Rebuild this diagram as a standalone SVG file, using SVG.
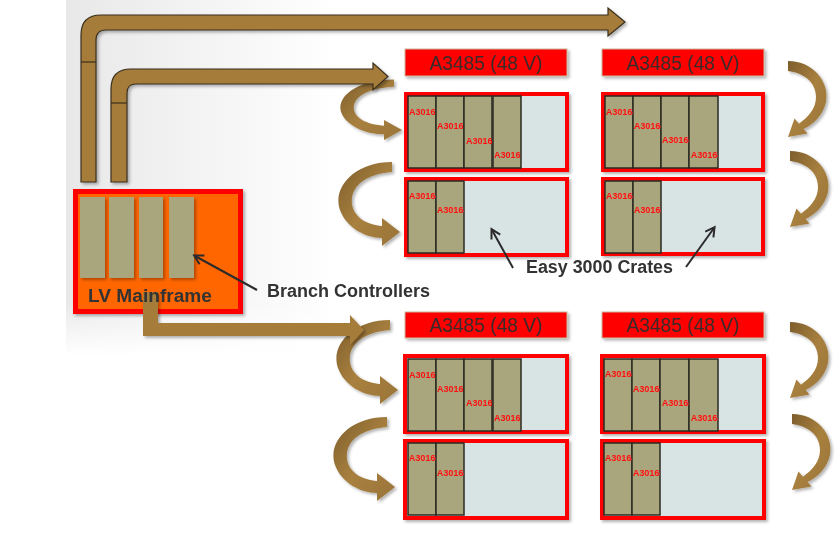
<svg xmlns="http://www.w3.org/2000/svg" width="838" height="544" viewBox="0 0 838 544">
<style>
.pipe{fill:#a67c3a;stroke:#3a2f1e;stroke-width:1.2}
.pipe2{fill:#a67c3a}
.joint{stroke:#3a2f1e;stroke-width:1.2}
.curve{fill:url(#cg)}
.psu rect{fill:#ff0000;stroke:#c9b89a;stroke-width:1}
.psu text{font-family:"Liberation Sans",Arial,sans-serif;font-size:20px;fill:#3a2b2b;text-anchor:middle}
.frame{fill:#d8e4e4;stroke:#ff0000;stroke-width:4}
.mod{fill:#a9a57d;stroke:#2b2a20;stroke-width:1.5}
.lbl{font-family:"Liberation Sans",Arial,sans-serif;font-size:9px;font-weight:bold;fill:#ff1010}
.big{font-family:"Liberation Sans",Arial,sans-serif;font-size:18px;font-weight:bold;fill:#333333}
.call{stroke:#2b2b2b;stroke-width:2;fill:none;marker-end:url(#ah)}
</style>
<defs>
<linearGradient id="bg" x1="0" y1="0" x2="1" y2="0">
<stop offset="0" stop-color="#e8e8e8"/>
<stop offset="0.35" stop-color="#ffffff"/>
</linearGradient>
<linearGradient id="bgv" x1="0" y1="0" x2="0" y2="1">
<stop offset="0.85" stop-color="#ffffff" stop-opacity="0"/>
<stop offset="1" stop-color="#ffffff" stop-opacity="1"/>
</linearGradient>
<linearGradient id="cg" x1="0" y1="0" x2="1" y2="1">
<stop offset="0" stop-color="#7e5e2c"/>
<stop offset="0.5" stop-color="#a8803f"/>
<stop offset="1" stop-color="#9a7438"/>
</linearGradient>
<filter id="sh" x="-20%" y="-20%" width="140%" height="140%">
<feDropShadow dx="2" dy="2" stdDeviation="1.5" flood-color="#000" flood-opacity="0.3"/>
</filter>
<marker id="ah" markerWidth="12" markerHeight="12" refX="9" refY="6" orient="auto" markerUnits="userSpaceOnUse">
<path d="M1,1 L10,6 L1,11" fill="none" stroke="#2b2b2b" stroke-width="2"/>
</marker>
<path id="cL" d="M-8,-70 C-45,-70 -68,-45 -60,-22 C-54,-5 -35,6 -18,6 L-18,14 L0,0 L-18,-14 L-18,-6 C-32,-7 -46,-14 -48,-28 C-50,-45 -35,-58 -8,-60 Z"/>
<path id="cR" d="M0,-76 C25,-76 42,-55 38,-35 C35,-22 26,-13 15.6,-8 L19.5,-3.4 L0,0 L6.5,-18.6 L11,-13.3 C20,-20 28,-28 28,-40 C28,-55 16,-64 0,-66 Z"/>
</defs>

<rect x="0" y="0" width="838" height="544" fill="#ffffff"/>
<rect x="66" y="0" width="772" height="355" fill="url(#bg)"/>
<rect x="66" y="0" width="772" height="355" fill="url(#bgv)"/>

<g id="connectors">
<g id="curves" filter="url(#sh)">
<use href="#cL" class="curve" transform="translate(402,130) scale(1,0.72)"/>
<use href="#cL" class="curve" transform="translate(400,232)"/>
<use href="#cL" class="curve" transform="translate(398,390)"/>
<use href="#cL" class="curve" transform="translate(395,487)"/>
<use href="#cR" class="curve" transform="translate(788,137)"/>
<use href="#cR" class="curve" transform="translate(790,227)"/>
<use href="#cR" class="curve" transform="translate(790,398)"/>
<use href="#cR" class="curve" transform="translate(792,490)"/>
</g>
<g id="pipes" filter="url(#sh)">
<path class="pipe" d="M81,182 L81,35 Q81,15 101,15 L608,15 L608,8 L625,22 L608,36 L608,30 L106,30 Q96,30 96,40 L96,182 Z"/>
<line class="joint" x1="81" y1="62" x2="96" y2="62"/>
<path class="pipe" d="M111,182 L111,89 Q111,69 131,69 L373,69 L373,63 L388,76.5 L373,90 L373,84 L136,84 Q127,84 127,93 L127,182 Z"/>
<line class="joint" x1="111" y1="103" x2="127" y2="103"/>
</g>
</g>

<g id="psu-tl" class="psu" filter="url(#sh)"><rect x="405" y="49" width="162" height="27"/><text x="486" y="70" textLength="113" lengthAdjust="spacingAndGlyphs">A3485 (48 V)</text></g>
<g id="psu-tr" class="psu" filter="url(#sh)"><rect x="602" y="49" width="162" height="27"/><text x="683" y="70" textLength="113" lengthAdjust="spacingAndGlyphs">A3485 (48 V)</text></g>
<g id="psu-bl" class="psu" filter="url(#sh)"><rect x="405" y="312" width="162" height="26"/><text x="486" y="332" textLength="113" lengthAdjust="spacingAndGlyphs">A3485 (48 V)</text></g>
<g id="psu-br" class="psu" filter="url(#sh)"><rect x="602" y="312" width="162" height="26"/><text x="683" y="332" textLength="113" lengthAdjust="spacingAndGlyphs">A3485 (48 V)</text></g>

<g id="crate-tl-1">
<rect class="frame" x="406" y="94" width="161" height="76" filter="url(#sh)"/>
<rect class="mod" x="408" y="96" width="28" height="72"/><rect class="mod" x="436" y="96" width="28" height="72"/><rect class="mod" x="464" y="96" width="28" height="72"/><rect class="mod" x="493" y="96" width="28" height="72"/>
<text class="lbl" x="409" y="115">A3016</text><text class="lbl" x="437" y="129">A3016</text><text class="lbl" x="466" y="144">A3016</text><text class="lbl" x="494" y="158">A3016</text>
</g>
<g id="crate-tl-2">
<rect class="frame" x="406" y="179" width="161" height="76" filter="url(#sh)"/>
<rect class="mod" x="408" y="181" width="28" height="72"/><rect class="mod" x="436" y="181" width="28" height="72"/>
<text class="lbl" x="409" y="199">A3016</text><text class="lbl" x="437" y="213">A3016</text>
</g>
<g id="crate-tr-1">
<rect class="frame" x="603" y="94" width="160" height="76" filter="url(#sh)"/>
<rect class="mod" x="605" y="96" width="28" height="72"/><rect class="mod" x="633" y="96" width="28" height="72"/><rect class="mod" x="661" y="96" width="28" height="72"/><rect class="mod" x="689" y="96" width="29" height="72"/>
<text class="lbl" x="606" y="115">A3016</text><text class="lbl" x="634" y="129">A3016</text><text class="lbl" x="662" y="143">A3016</text><text class="lbl" x="691" y="158">A3016</text>
</g>
<g id="crate-tr-2">
<rect class="frame" x="603" y="179" width="160" height="75" filter="url(#sh)"/>
<rect class="mod" x="605" y="181" width="28" height="72"/><rect class="mod" x="633" y="181" width="28" height="72"/>
<text class="lbl" x="606" y="199">A3016</text><text class="lbl" x="634" y="213">A3016</text>
</g>
<g id="crate-bl-1">
<rect class="frame" x="405" y="356" width="162" height="76" filter="url(#sh)"/>
<rect class="mod" x="408" y="359" width="28" height="72"/><rect class="mod" x="436" y="359" width="28" height="72"/><rect class="mod" x="464" y="359" width="28" height="72"/><rect class="mod" x="493" y="359" width="28" height="72"/>
<text class="lbl" x="409" y="378">A3016</text><text class="lbl" x="437" y="392">A3016</text><text class="lbl" x="466" y="406">A3016</text><text class="lbl" x="494" y="421">A3016</text>
</g>
<g id="crate-bl-2">
<rect class="frame" x="405" y="441" width="162" height="77" filter="url(#sh)"/>
<rect class="mod" x="408" y="443" width="28" height="72"/><rect class="mod" x="436" y="443" width="28" height="72"/>
<text class="lbl" x="409" y="461">A3016</text><text class="lbl" x="437" y="476">A3016</text>
</g>
<g id="crate-br-1">
<rect class="frame" x="602" y="356" width="162" height="76" filter="url(#sh)"/>
<rect class="mod" x="604" y="359" width="28" height="72"/><rect class="mod" x="632" y="359" width="28" height="72"/><rect class="mod" x="660" y="359" width="29" height="72"/><rect class="mod" x="689" y="359" width="29" height="72"/>
<text class="lbl" x="605" y="377">A3016</text><text class="lbl" x="633" y="392">A3016</text><text class="lbl" x="662" y="406">A3016</text><text class="lbl" x="691" y="421">A3016</text>
</g>
<g id="crate-br-2">
<rect class="frame" x="602" y="441" width="162" height="77" filter="url(#sh)"/>
<rect class="mod" x="604" y="443" width="28" height="72"/><rect class="mod" x="632" y="443" width="28" height="72"/>
<text class="lbl" x="605" y="461">A3016</text><text class="lbl" x="633" y="476">A3016</text>
</g>

<g id="mainframe">
<rect x="75.5" y="191.5" width="165" height="120" fill="#ff6600" stroke="#ff0000" stroke-width="5" filter="url(#sh)"/>
<g filter="url(#sh)">
<rect x="80" y="197" width="25" height="81" fill="#a9a57d"/>
<rect x="109" y="197" width="25" height="81" fill="#a9a57d"/>
<rect x="139" y="197" width="24" height="81" fill="#a9a57d"/>
<rect x="169" y="197" width="25" height="81" fill="#a9a57d"/>
</g>
</g>

<g id="mainframe-pipe" filter="url(#sh)">
<path class="pipe2" d="M143,292 L143,336 L350,336 L350,345 L364,330 L350,315 L350,323 L158,323 L158,292 Z"/>
</g>

<g id="labels">
<text class="big" x="88" y="302" textLength="124" lengthAdjust="spacingAndGlyphs">LV Mainframe</text>
<text class="big" x="267" y="297" textLength="163" lengthAdjust="spacingAndGlyphs">Branch Controllers</text>
<text class="big" x="526" y="273" textLength="147" lengthAdjust="spacingAndGlyphs">Easy 3000 Crates</text>
</g>

<g id="callouts">
<line class="call" x1="257" y1="290" x2="195" y2="256"/>
<line class="call" x1="513" y1="268" x2="492" y2="230"/>
<line class="call" x1="686" y1="267" x2="714" y2="228"/>
</g>
</svg>
